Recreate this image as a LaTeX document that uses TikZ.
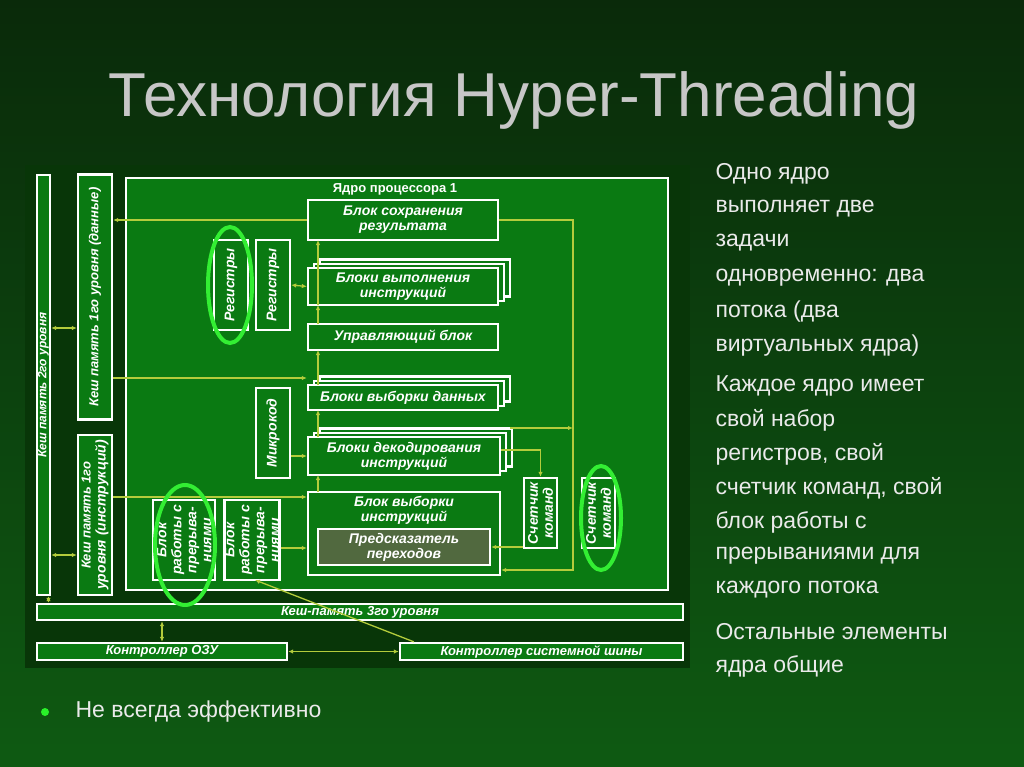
\documentclass[tikz,border=0pt]{standalone}
\usepackage{fontspec}
\setmainfont{Liberation Sans}
\usetikzlibrary{arrows.meta}
\definecolor{bgtop}{HTML}{0A2A0A}
\definecolor{bgbot}{HTML}{0E5A12}
\definecolor{panel}{HTML}{083608}
\definecolor{core}{HTML}{0A7A12}
\definecolor{arr}{HTML}{B4CC3C}
\definecolor{hi}{HTML}{33EE33}
\definecolor{pred}{HTML}{51693F}
\definecolor{txt}{HTML}{EAEAEA}
\begin{document}
\begin{tikzpicture}[x=1pt,y=-1pt,
  blk/.style={draw=white,line width=2.4pt,fill=core,font=\bfseries\itshape\fontsize{14}{15}\selectfont,text=white,align=center,inner sep=0pt},
  vblk/.style={blk,rotate=90},
  con/.style={draw=arr,line width=1.3pt,-{Latex[length=5pt,width=4.5pt]}},
  bicon/.style={draw=arr,line width=1.3pt,{Latex[length=5pt,width=4.5pt]}-{Latex[length=5pt,width=4.5pt]}},
  ell/.style={draw=hi,line width=4pt},
  rt/.style={anchor=west,text=txt,font=\fontsize{23}{26}\selectfont}]
\useasboundingbox (0,0) rectangle (1024,767);
\shade[top color=bgtop,bottom color=bgbot] (0,0) rectangle (1024,767);
\fill[panel] (25,165) rectangle (690,668);
% title
\node (title) [text=black!22,font=\fontsize{62}{66}\selectfont] at (514,100) {Технология Hyper-Threading};
% core
\node (core) [draw=white,line width=2.4pt,fill=core,minimum width=542pt,minimum height=412pt,inner sep=0pt] at (397,384) {};
\node (coret) [text=white,font=\bfseries\fontsize{13}{14}\selectfont] at (395,189) {Ядро процессора 1};
% caches
\node (l2) [vblk,minimum width=420pt,minimum height=13pt] at (43.5,385) {\fontsize{12}{12}\selectfont Кеш память 2го уровня};
\node (l1d) [vblk,minimum width=245pt,minimum height=34pt] at (95,297) {\fontsize{13}{14}\selectfont Кеш память 1го уровня (данные)};
\node (l1i) [vblk,minimum width=160pt,minimum height=34pt] at (95,515) {\fontsize{13}{14}\selectfont Кеш память 1го\\уровня (инструкций)};
% central column
\node (save) [blk,minimum width=190pt,minimum height=40pt] at (403,220) {Блок сохранения\\результата};
\foreach \d in {12,6} \draw[white,line width=2.4pt,fill=core] (308+\d,268-\d*0.7) rectangle (498+\d,305-\d*0.7);
\node (exec) [blk,minimum width=190pt,minimum height=37pt] at (403,286.5) {Блоки выполнения\\инструкций};
\node (ctrl) [blk,minimum width=190pt,minimum height=26pt] at (403,337) {Управляющий блок};
\foreach \d in {12,6} \draw[white,line width=2.4pt,fill=core] (308+\d,385-\d*0.7) rectangle (498+\d,410-\d*0.7);
\node (dfetch) [blk,minimum width=190pt,minimum height=25pt] at (403,397.5) {Блоки выборки данных};
\foreach \d in {12,6} \draw[white,line width=2.4pt,fill=core] (308+\d,437-\d*0.7) rectangle (500+\d,475-\d*0.7);
\node (dec) [blk,minimum width=192pt,minimum height=38pt] at (404,456) {Блоки декодирования\\инструкций};
\node (ifetch) [blk,minimum width=192pt,minimum height=83pt,text depth=50pt] at (404,533.5) {Блок выборки\\инструкций};
\node (pred) [blk,fill=pred,minimum width=172pt,minimum height=36pt] at (404,547) {Предсказатель\\переходов};
% left small blocks
\node (reg1) [vblk,minimum width=90pt,minimum height=34pt] at (231,285) {Регистры};
\node (reg2) [vblk,minimum width=90pt,minimum height=34pt] at (273,285) {Регистры};
\node (micro) [vblk,minimum width=90pt,minimum height=34pt] at (273,433) {Микрокод};
\node (int1) [vblk,minimum width=80pt,minimum height=62pt] at (184,540) {Блок\\работы с\\прерыва-\\ниями};
\node (int2) [vblk,minimum width=80pt,minimum height=55pt] at (252,540) {Блок\\работы с\\прерыва-\\ниями};
% counters
\node (pc1) [vblk,minimum width=70pt,minimum height=33pt] at (540.5,513) {Счетчик\\команд};
\node (pc2) [vblk,minimum width=70pt,minimum height=33pt] at (598.5,513) {Счетчик\\команд};
% bottom
\node (l3) [blk,minimum width=646pt,minimum height=16pt] at (360,612) {\fontsize{13}{13}\selectfont Кеш-память 3го уровня};
\node (ram) [blk,minimum width=250pt,minimum height=17pt] at (162,651.5) {\fontsize{13}{13}\selectfont Контроллер ОЗУ};
\node (bus) [blk,minimum width=283pt,minimum height=17pt] at (541.5,651.5) {\fontsize{13}{13}\selectfont Контроллер системной шины};
% connectors
\draw[con] (save.west) -- (save.west -| l1d.south);
\draw[con] (l1d.south |- 0,378) -- (dfetch.west |- 0,378);
\draw[bicon] (l2.south |- 0,328) -- (l1d.north |- 0,328);
\draw[bicon] (l2.south |- 0,555) -- (l1i.north |- 0,555);
\draw[bicon] (reg2.south) -- (exec.west);
\draw[con] (micro.south |- dec.west) -- (dec.west);
\draw[con] (l1i.south |- 0,497) -- (ifetch.west |- 0,497);
\draw[con] (int2.south |- 0,548) -- (ifetch.west |- 0,548);
\draw[con] (pc1.north |- pred.east) -- (pred.east);
\draw[con] (318,305) -- (318,240);
\draw[con] (318,324) -- (318,305);
\draw[con] (318,385) -- (318,350);
\draw[con] (318,437) -- (318,410);
\draw[con] (318,492) -- (318,475);
\draw[con] (dec.east |- 0,450) -| (pc1.east);
\draw[con] (510,428) -- (573,428);
\draw[con] (save.east) -| (573,570) -- (ifetch.east |- 0,570);
\draw[bicon] (l3.north -| l2.west) ++(5,0) coordinate (a) -- (a |- l2.west);
\draw[bicon] (l3.south -| ram.south) coordinate (b) -- (b |- ram.north);
\draw[bicon] (ram.east) -- (bus.west);
\draw[con] (bus.north west) ++(15,0) coordinate (c) -- (255,580);
% ellipses
\draw[ell] (230,285) ellipse (22 and 58);
\draw[ell] (185,545) ellipse (30 and 60);
\draw[ell] (601,518) ellipse (20 and 52);
% right text
\foreach \t [count=\i] in {Одно ядро,выполняет две,задачи,одновременно: два,потока (два,виртуальных ядра)}
  \node[rt] at (712,140+34.3*\i) {\t};
\foreach \t [count=\i] in {Каждое ядро имеет,свой набор,регистров{,} свой,счетчик команд{,} свой,блок работы с,прерываниями для,каждого потока}
  \node[rt] at (712,352+34*\i) {\t};
\foreach \t [count=\i] in {Остальные элементы,ядра общие}
  \node[rt] at (712,598+34*\i) {\t};
\fill[hi!80!green] (45,712) circle (4);
\node (bl) [rt] at (72,712) {Не всегда эффективно};
\end{tikzpicture}
\end{document}
